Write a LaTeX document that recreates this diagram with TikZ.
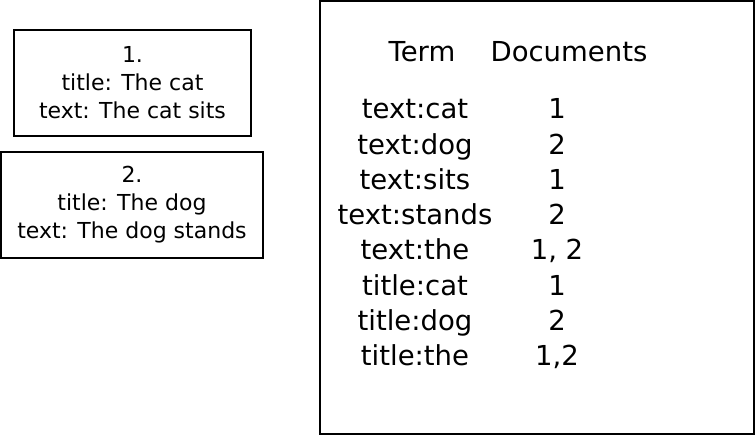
\documentclass[tikz,border=0pt]{standalone}
\usepackage{fontspec}
\setmainfont{DejaVu Sans}
\usepackage{tikz}
\usetikzlibrary{positioning}

\begin{document}
\begin{tikzpicture}[
  x=1pt, y=-1pt,
  docbox/.style={rectangle, draw, line width=1.3pt, inner sep=0pt, align=center,
    font=\fontsize{22}{28}\selectfont},
  cell/.style={inner sep=0pt, anchor=base, font=\fontsize{27.5}{30}\selectfont},
  head/.style={cell}
]
\useasboundingbox (0,0) rectangle (756,436);

% documents
\node[docbox, minimum width=237pt, minimum height=106pt] (doca) at (132.5,83)
  {1.\\title: The cat\\text: The cat sits};
\node[docbox, minimum width=262pt, minimum height=106pt] (docb) at (132,205)
  {2.\\title: The dog\\ text: The dog stands};

% inverted index
\node[draw, line width=1.3pt, minimum width=434pt, minimum height=433pt] (index) at (537,217.5) {};

\node[head] (termhead) at (422,62) {Term};
\node[head] (dochead) at (569,62) {Documents};

\node[cell] (t1) at (415,119) {text:cat};
\node[cell] (t2) at (415,154.2) {text:dog};
\node[cell] (t3) at (415,189.4) {text:sits};
\node[cell] (t4) at (415,224.6) {text:stands};
\node[cell] (t5) at (415,259.8) {text:the};
\node[cell] (t6) at (415,295) {title:cat};
\node[cell] (t7) at (415,330.2) {title:dog};
\node[cell] (t8) at (415,365.4) {title:the};

\node[cell] (d1) at (557,119) {1};
\node[cell] (d2) at (557,154.2) {2};
\node[cell] (d3) at (557,189.4) {1};
\node[cell] (d4) at (557,224.6) {2};
\node[cell] (d5) at (557,259.8) {1, 2};
\node[cell] (d6) at (557,295) {1};
\node[cell] (d7) at (557,330.2) {2};
\node[cell] (d8) at (557,365.4) {1,2};
\end{tikzpicture}
\end{document}
